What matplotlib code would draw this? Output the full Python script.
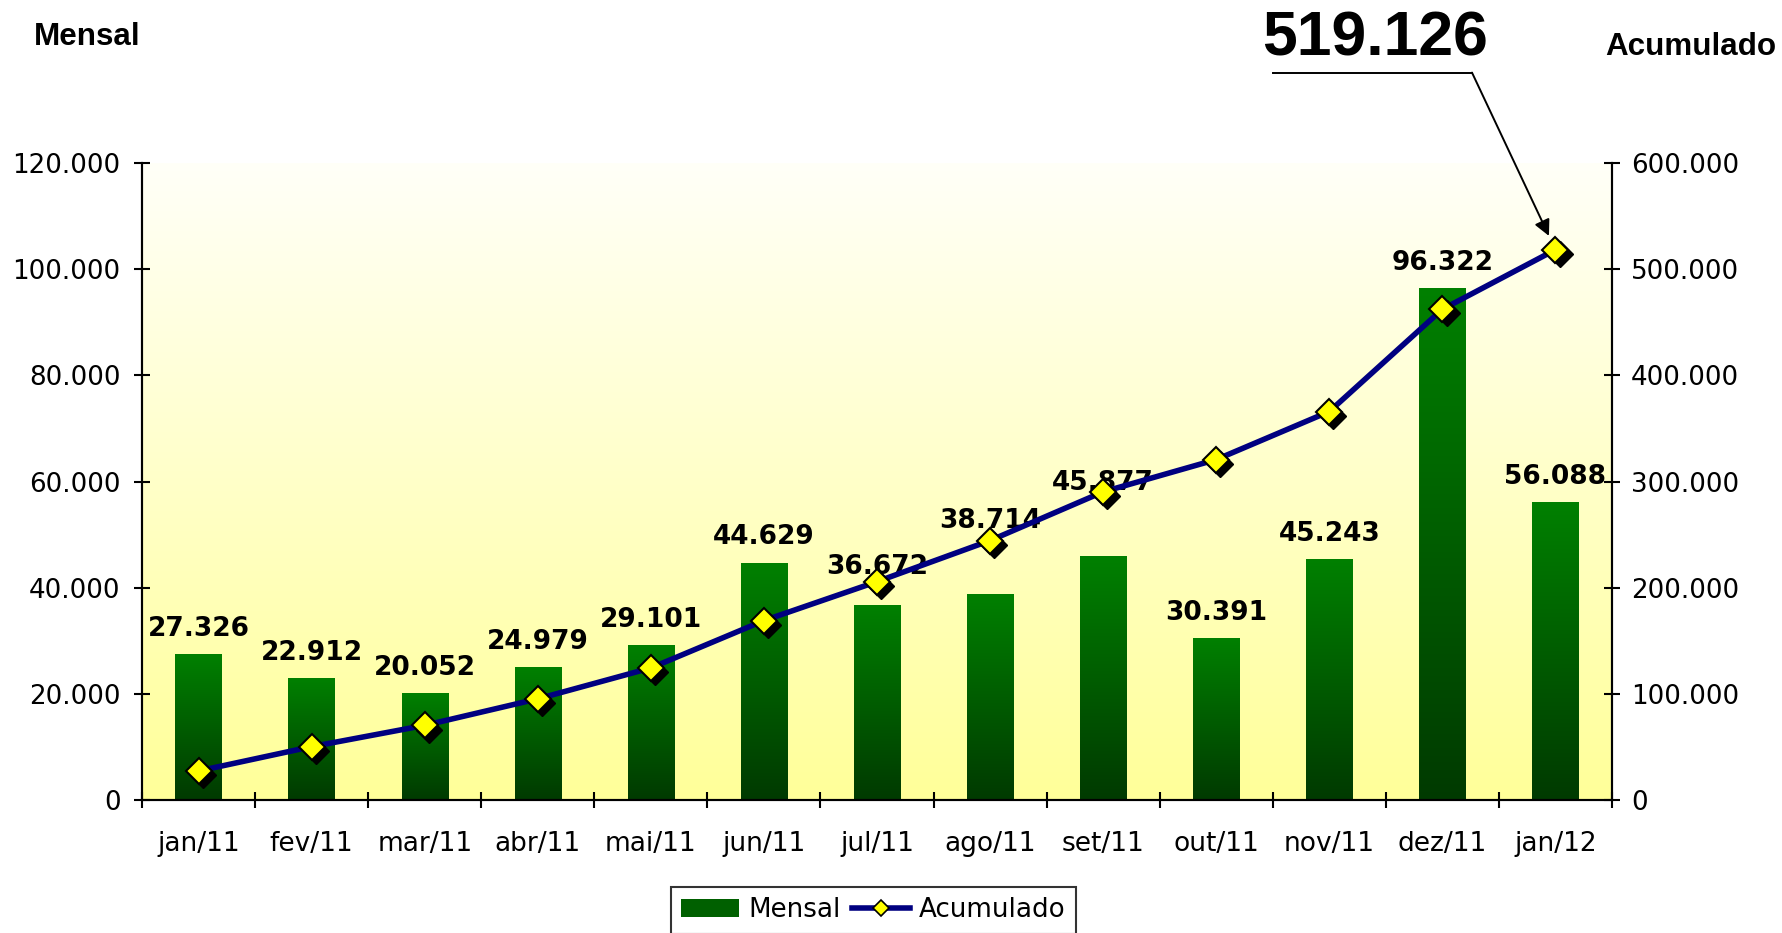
import numpy as np
import matplotlib
matplotlib.use('Agg')
import matplotlib.pyplot as plt
from matplotlib.colors import LinearSegmentedColormap
from matplotlib.lines import Line2D
from matplotlib.patches import Patch
from matplotlib.transforms import offset_copy

# data
meses = ['jan/11', 'fev/11', 'mar/11', 'abr/11', 'mai/11', 'jun/11', 'jul/11',
         'ago/11', 'set/11', 'out/11', 'nov/11', 'dez/11', 'jan/12']
mensal = [27326, 22912, 20052, 24979, 29101, 44629, 36672,
          38714, 45877, 30391, 45243, 96322, 56088]
acumulado = [27326, 50238, 70290, 95269, 124370, 168999, 205671,
             244385, 290262, 320653, 365896, 462218, 518306]
total_txt = '519.126'
left_ticks = [0, 20000, 40000, 60000, 80000, 100000, 120000]
right_ticks = [0, 100000, 200000, 300000, 400000, 500000, 600000]

# how far (pt) each value label sits above its bar (some were moved by hand)
label_lift = [13.5, 13.5, 13.5, 13.5, 13.5, 13.5, 22.8, 48, 48, 13.5, 13.5, 13.5, 13.5]


def fmt(v):
    return f'{v:,.0f}'.replace(',', '.')


W, H = 1782, 933
fig = plt.figure(figsize=(W / 100, H / 100), dpi=100)
ax = fig.add_axes([142 / W, 1 - 800 / H, 1470 / W, 637 / H])
ax2 = ax.twinx()

x = np.arange(len(meses))
bar_w = 0.41

# background gradient (white at top -> yellow at bottom)
bg_cmap = LinearSegmentedColormap.from_list('bg', ['#FFFFF8', '#FFFF99'])
grad = np.linspace(0, 1, 256).reshape(-1, 1)
ax.imshow(grad, extent=(0, 1, 0, 1), transform=ax.transAxes, cmap=bg_cmap,
          aspect='auto', zorder=0)

# bars with vertical green gradient
bar_cmap = LinearSegmentedColormap.from_list('bar', ['#008000', '#003a00'])
for i, v in enumerate(mensal):
    ax.imshow(grad, extent=(i - bar_w / 2, i + bar_w / 2, 0, v), cmap=bar_cmap,
              aspect='auto', zorder=2)
    ax.annotate(fmt(v), xy=(i, v), xytext=(0, label_lift[i]), textcoords='offset points',
                ha='center', va='baseline', fontsize=19, fontweight='bold',
                family='DejaVu Sans', zorder=3, annotation_clip=False)

ax.set_xlim(-0.5, len(meses) - 0.5)
ax.set_ylim(0, 120000)
ax2.set_ylim(0, 600000)

# cumulative line with shadowed diamond markers
ax2.plot(x, acumulado, color='#000080', lw=4, zorder=3, solid_capstyle='round')
shadow = offset_copy(ax2.transData, fig=fig, x=3, y=-3, units='points')
ax2.plot(x, acumulado, ls='none', marker='D', ms=13, color='black', transform=shadow, zorder=4)
ax2.plot(x, acumulado, ls='none', marker='D', ms=13, markerfacecolor='#FFFF00',
         markeredgecolor='black', markeredgewidth=1.5, zorder=5)

# axes styling
for a in (ax, ax2):
    a.spines['top'].set_visible(False)
    for s in ('left', 'right', 'bottom'):
        a.spines[s].set_linewidth(1.5)

ax.set_yticks(left_ticks)
ax.set_yticklabels([fmt(v) for v in left_ticks])
ax2.set_yticks(right_ticks)
ax2.set_yticklabels([fmt(v) for v in right_ticks])

ax.set_xticks(np.arange(-0.5, len(meses), 1))
ax.set_xticklabels([])
ax.set_xticks(x, minor=True)
ax.set_xticklabels(meses, minor=True)
ax.tick_params(axis='x', which='major', direction='inout', length=12, width=1.5)
ax.tick_params(axis='x', which='minor', length=0, pad=22, labelsize=19)
ax.tick_params(axis='y', direction='inout', length=11, width=1.5, pad=10, labelsize=18.8)
ax2.tick_params(axis='y', direction='inout', length=11, width=1.5, pad=8, labelsize=18.8)

# titles of the two axes
fig.text(34 / W, 1 - 45 / H, 'Mensal', ha='left', va='baseline',
         family='Liberation Sans', fontweight='bold', fontsize=22.6)
fig.text(1776 / W, 1 - 55 / H, 'Acumulado', ha='right', va='baseline',
         family='Liberation Sans', fontweight='bold', fontsize=22.6)

# total callout
fig.text(1375 / W, 1 - 55 / H, total_txt, ha='center', va='baseline',
         family='Liberation Sans', fontweight='bold', fontsize=45)
ly = 1 - 72.6 / H
fig.add_artist(Line2D([1273 / W, 1472 / W], [ly, ly], transform=fig.transFigure,
                      color='black', lw=1.4))
ax2.annotate('', xy=(x[-1], acumulado[-1]), xytext=(1472 / W, ly),
             textcoords='figure fraction', annotation_clip=False,
             arrowprops=dict(arrowstyle='-|>', color='black', lw=1.4,
                             shrinkA=0, shrinkB=11, mutation_scale=24))

# legend at the bottom (partly cut off like the original)
handles = [Patch(facecolor='#006000', edgecolor='none'),
           Line2D([], [], color='#000080', lw=4, marker='D', ms=13,
                  markerfacecolor='#FFFF00', markeredgecolor='black', markeredgewidth=1.2)]
leg = fig.legend(handles, ['Mensal', 'Acumulado'], loc='upper left',
                 bbox_to_anchor=(671 / W, 1 - 887 / H), ncol=2, fontsize=18.8,
                 frameon=True, fancybox=False, borderaxespad=0, handlelength=2.2,
                 handletextpad=0.35, columnspacing=0.45, borderpad=0.4, markerscale=0.65)
leg.get_frame().set_edgecolor('black')
leg.get_frame().set_linewidth(1.5)

fig.savefig('out.png', dpi=100)
